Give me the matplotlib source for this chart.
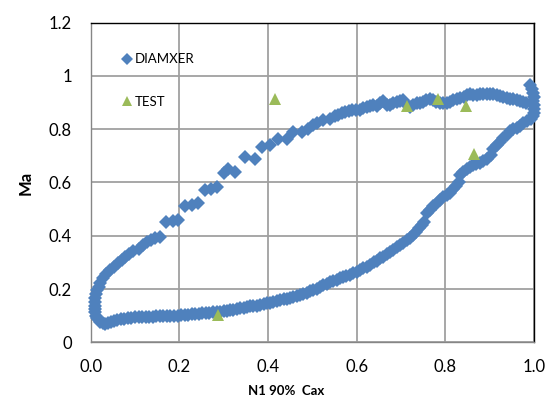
import numpy as np
import matplotlib
matplotlib.use("Agg")
import matplotlib.pyplot as plt

plt.rcParams['font.family'] = ['Lato', 'DejaVu Sans']

# ---- data ----
# DIAMXER, upper branch (left to right)
upper_x = [0.009, 0.010, 0.012, 0.015, 0.018, 0.022, 0.028, 0.035, 0.044, 0.052,
           0.062, 0.070, 0.077, 0.086, 0.096, 0.108, 0.118, 0.126, 0.136, 0.145,
           0.156, 0.171, 0.185, 0.198, 0.213, 0.228, 0.243, 0.258, 0.271, 0.285,
           0.300, 0.310, 0.326, 0.348, 0.371, 0.386, 0.404, 0.423, 0.442, 0.457,
           0.476, 0.491, 0.502, 0.510, 0.525, 0.540, 0.550, 0.558, 0.566, 0.574,
           0.582, 0.589, 0.598, 0.607, 0.615, 0.623, 0.630, 0.637, 0.645, 0.653,
           0.660, 0.668, 0.675, 0.682, 0.690, 0.697, 0.705, 0.712, 0.720, 0.728,
           0.735, 0.742, 0.750, 0.757, 0.765, 0.772, 0.780, 0.788, 0.795, 0.803,
           0.811, 0.818, 0.826, 0.833, 0.841, 0.848, 0.856, 0.863, 0.871, 0.878,
           0.886, 0.893, 0.901, 0.908, 0.916, 0.923, 0.931, 0.938, 0.946, 0.953,
           0.961, 0.968, 0.976, 0.983]
upper_y = [0.150, 0.165, 0.180, 0.195, 0.209, 0.224, 0.240, 0.255, 0.271, 0.284,
           0.298, 0.310, 0.322, 0.333, 0.344, 0.352, 0.366, 0.377, 0.384, 0.390,
           0.396, 0.450, 0.455, 0.459, 0.512, 0.516, 0.522, 0.570, 0.577, 0.584,
           0.636, 0.652, 0.641, 0.696, 0.690, 0.734, 0.740, 0.765, 0.765, 0.790,
           0.790, 0.800, 0.815, 0.825, 0.836, 0.840, 0.848, 0.855, 0.860, 0.866,
           0.870, 0.872, 0.872, 0.872, 0.878, 0.884, 0.886, 0.890, 0.886, 0.897,
           0.905, 0.890, 0.890, 0.898, 0.903, 0.906, 0.909, 0.895, 0.884, 0.890,
           0.897, 0.900, 0.903, 0.910, 0.915, 0.908, 0.903, 0.900, 0.897, 0.900,
           0.903, 0.910, 0.915, 0.918, 0.922, 0.928, 0.934, 0.930, 0.928, 0.931,
           0.934, 0.934, 0.934, 0.931, 0.928, 0.925, 0.922, 0.918, 0.915, 0.912,
           0.909, 0.906, 0.903, 0.897]

# DIAMXER, trailing edge cluster
edge_x = [0.991, 0.995, 0.997, 0.999, 0.998, 1.000, 0.999, 1.000, 0.998, 0.993]
edge_y = [0.965, 0.950, 0.935, 0.920, 0.905, 0.890, 0.875, 0.860, 0.848, 0.840]

# DIAMXER, lower branch (right to left)
lower_x = [0.985, 0.976, 0.968, 0.961, 0.953, 0.946, 0.938, 0.931, 0.923, 0.916,
           0.908, 0.903, 0.895, 0.886, 0.878, 0.870, 0.862, 0.855, 0.848, 0.840,
           0.834, 0.830, 0.824, 0.818, 0.810, 0.803, 0.795, 0.788, 0.780, 0.773,
           0.766, 0.758, 0.752, 0.747, 0.740, 0.733, 0.726, 0.720, 0.713, 0.705,
           0.698, 0.690, 0.683, 0.675, 0.668, 0.660, 0.653, 0.645, 0.638, 0.630,
           0.623, 0.615, 0.607, 0.600, 0.592, 0.585, 0.577, 0.570, 0.562, 0.555,
           0.547, 0.540, 0.532, 0.525, 0.517, 0.510, 0.502, 0.495, 0.487, 0.480,
           0.472, 0.465, 0.457, 0.450, 0.442, 0.435, 0.427, 0.420, 0.412, 0.405,
           0.397, 0.390, 0.382, 0.375, 0.367, 0.360, 0.352, 0.345, 0.337, 0.330,
           0.322, 0.315, 0.307, 0.300, 0.292, 0.284, 0.276, 0.268, 0.260, 0.252,
           0.244, 0.236, 0.228, 0.220, 0.212, 0.204, 0.196, 0.188, 0.180, 0.172,
           0.164, 0.156, 0.148, 0.140, 0.132, 0.124, 0.116, 0.108, 0.100, 0.092,
           0.084, 0.076, 0.068, 0.060, 0.052, 0.045, 0.038, 0.032, 0.027, 0.022,
           0.018, 0.015, 0.012, 0.010, 0.009, 0.009]
lower_y = [0.832, 0.822, 0.812, 0.806, 0.800, 0.792, 0.778, 0.768, 0.752, 0.740,
           0.726, 0.705, 0.690, 0.680, 0.674, 0.668, 0.664, 0.658, 0.650, 0.640,
           0.630, 0.600, 0.588, 0.576, 0.562, 0.554, 0.546, 0.536, 0.520, 0.510,
           0.498, 0.486, 0.452, 0.440, 0.428, 0.414, 0.402, 0.393, 0.384, 0.374,
           0.365, 0.356, 0.346, 0.338, 0.330, 0.322, 0.315, 0.307, 0.300, 0.292,
           0.284, 0.278, 0.271, 0.265, 0.259, 0.254, 0.249, 0.245, 0.240, 0.235,
           0.230, 0.225, 0.220, 0.214, 0.208, 0.202, 0.196, 0.191, 0.186, 0.181,
           0.177, 0.174, 0.170, 0.167, 0.164, 0.161, 0.158, 0.155, 0.152, 0.149,
           0.146, 0.143, 0.140, 0.138, 0.136, 0.135, 0.133, 0.130, 0.127, 0.124,
           0.121, 0.120, 0.118, 0.117, 0.115, 0.114, 0.112, 0.111, 0.110, 0.109,
           0.108, 0.106, 0.105, 0.104, 0.102, 0.101, 0.100, 0.100, 0.099, 0.099,
           0.098, 0.097, 0.097, 0.096, 0.096, 0.095, 0.095, 0.094, 0.094, 0.093,
           0.091, 0.089, 0.086, 0.083, 0.079, 0.076, 0.072, 0.070, 0.071, 0.075,
           0.082, 0.090, 0.100, 0.112, 0.125, 0.138]

# TEST points
test_x = [0.288, 0.416, 0.714, 0.783, 0.847, 0.865]
test_y = [0.102, 0.915, 0.887, 0.912, 0.887, 0.707]

x_ticks = [0.0, 0.2, 0.4, 0.6, 0.8, 1.0]
x_tick_labels = ['0.0', '0.2', '0.4', '0.6', '0.8', '1.0']
y_ticks = [0, 0.2, 0.4, 0.6, 0.8, 1.0, 1.2]
y_tick_labels = ['0', '0.2', '0.4', '0.6', '0.8', '1', '1.2']

# ---- figure ----
fig = plt.figure(figsize=(5.54, 4.08), dpi=100)
ax = fig.add_axes([0.1637, 0.161, 0.8002, 0.7834])

diam_x = np.concatenate([upper_x, edge_x, lower_x])
diam_y = np.concatenate([upper_y, edge_y, lower_y])

ax.plot(diam_x, diam_y, linestyle='none', marker='D', markersize=7.4,
        color='#4F81BD', markeredgewidth=0, label='DIAMXER', clip_on=False, zorder=3)
ax.plot(test_x, test_y, linestyle='none', marker='^', markersize=9,
        color='#9BBB59', markeredgewidth=0, label='TEST', clip_on=False, zorder=4)

ax.set_xlim(0, 1.0)
ax.set_ylim(0, 1.2)
ax.set_xticks(x_ticks)
ax.set_xticklabels(x_tick_labels)
ax.set_yticks(y_ticks)
ax.set_yticklabels(y_tick_labels)
ax.tick_params(axis='both', length=0, labelsize=12, colors='#000000')
ax.tick_params(axis='x', pad=12)
ax.tick_params(axis='y', pad=13.5)

ax.grid(True, color='#A0A0A0', linewidth=1.3)
ax.set_axisbelow(True)

for side in ['left', 'bottom']:
    ax.spines[side].set_color('#868686')
    ax.spines[side].set_linewidth(1.0)
for side in ['top', 'right']:
    ax.spines[side].set_color('#000000')
    ax.spines[side].set_linewidth(1.0)

ax.set_xlabel('N1 90%  Cax', fontsize=9.5, fontweight='bold', labelpad=8)
ax.xaxis.set_label_coords(0.44, -0.135)
ax.set_ylabel('Ma', fontsize=12, fontweight='bold', labelpad=11)

leg = ax.legend(loc='upper left', bbox_to_anchor=(0.052, 0.925), frameon=False,
                fontsize=9.5, handletextpad=0.1, labelspacing=2.3,
                handlelength=1.0, borderpad=0, markerscale=0.8)

fig.savefig('out.png', dpi=100)
